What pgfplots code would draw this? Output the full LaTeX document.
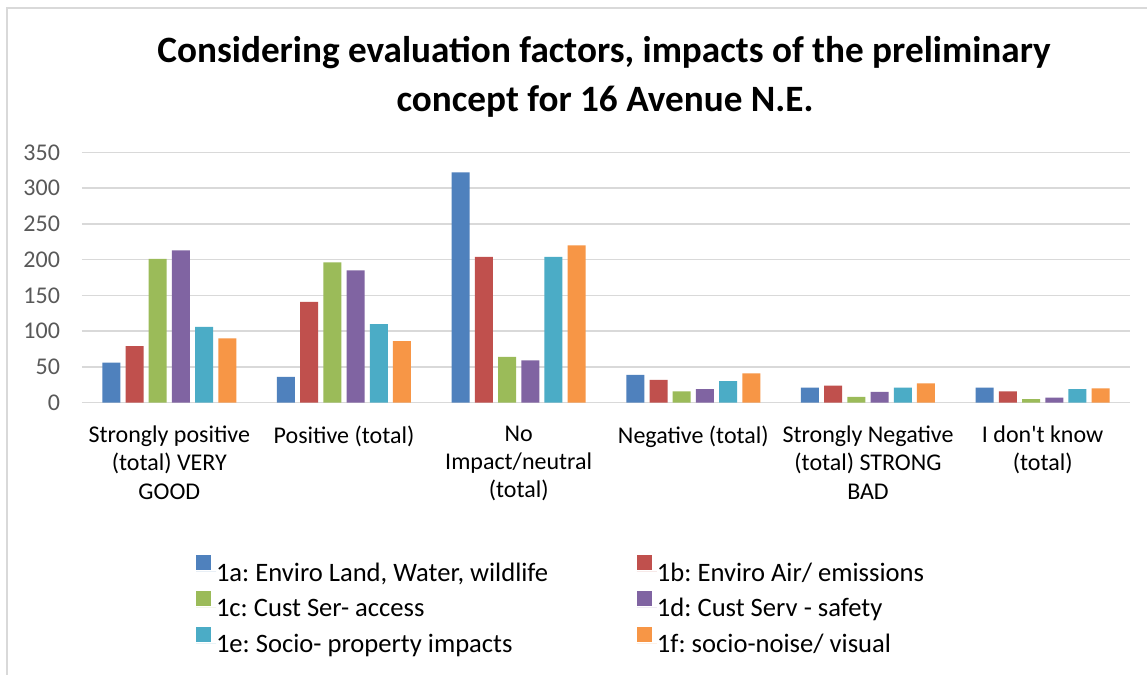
\documentclass[border=0pt]{standalone}
\usepackage{fontspec}
\setmainfont{Carlito}
\usepackage{pgfplots}
\pgfplotsset{compat=1.18}
\definecolor{ca}{HTML}{4F81BD}
\definecolor{cb}{HTML}{C0504D}
\definecolor{cc}{HTML}{9BBB59}
\definecolor{cd}{HTML}{8064A2}
\definecolor{ce}{HTML}{4BACC6}
\definecolor{cf}{HTML}{F79646}
\definecolor{gridc}{HTML}{D9D9D9}
\definecolor{tickc}{HTML}{595959}
\pgfplotsset{sqlegend/.style={legend image code/.code={\path (0pt,0pt) -- (10pt,0pt); \fill[##1] (0pt,0.65pt) rectangle (7.5pt,8.15pt);}}}
\newcommand\lentry[1]{\makebox[210.5pt][l]{\rule[-4pt]{0pt}{15pt}#1}}
\frenchspacing
\begin{document}
\begin{tikzpicture}
\path[use as bounding box] (0pt,0pt) rectangle (573.5pt,-337.5pt);
\fill[white] (0pt,0pt) rectangle (573.5pt,-337.5pt);
\draw[gridc, line width=1pt] (3.5pt,-337.5pt) -- (3.5pt,-4pt) -- (573.5pt,-4pt);
\node[anchor=base, font=\fontsize{18.6}{22}\selectfont\bfseries] at (302pt,-31.35pt) {Considering evaluation factors, impacts of the preliminary};
\node[anchor=base, font=\fontsize{18.6}{22}\selectfont\bfseries] at (302.5pt,-55.85pt) {concept for 16 Avenue N.E.};
\begin{axis}[
  at={(41pt,-201.35pt)}, anchor=south west,
  width=524pt, height=125.2pt, scale only axis,
  xmin=-0.5, xmax=5.5, ymin=0, ymax=350,
  ytick={0,50,...,350},
  xtick={0,...,5},
  xticklabels={{Strongly positive\\(total) VERY\\GOOD},{Positive (total)},{No\\Impact/neutral\\(total)},{Negative (total)},{Strongly Negative\\(total) STRONG\\BAD},{I don\textquotesingle t know\\(total)}},
  ybar=2.6pt, bar width=9pt,
  axis line style={draw=none},
  major tick length=0pt,
  ymajorgrids, grid style={gridc, line width=0.75pt},
  /pgf/number format/assume math mode=true,
  yticklabel style={font=\fontsize{12}{14}\selectfont, text=tickc, xshift=-7.5pt},
  xticklabel style={font=\fontsize{12}{14.2}\selectfont, align=center, yshift=-8pt},
  legend columns=2,
  legend style={at={(rel axis cs:0,0)}, anchor=north west, xshift=57pt, yshift=-76.3pt, draw=none, fill=none, inner sep=0pt, outer sep=0pt, row sep=3.5pt, column sep=0pt, font=\fontsize{13.3}{15}\selectfont, nodes={inner sep=0pt}},
  legend cell align=left,
]
\addplot[fill=ca, draw=none, sqlegend] coordinates {(0,56) (1,36) (2,322) (3,39) (4,21) (5,21)};
\addlegendentry{\lentry{1a: Enviro Land, Water, wildlife}}
\addplot[fill=cb, draw=none, sqlegend] coordinates {(0,79) (1,141) (2,204) (3,32) (4,24) (5,16)};
\addlegendentry{\lentry{1b: Enviro Air/ emissions}}
\addplot[fill=cc, draw=none, sqlegend] coordinates {(0,201) (1,196) (2,64) (3,16) (4,8) (5,5)};
\addlegendentry{\lentry{1c: Cust Ser- access}}
\addplot[fill=cd, draw=none, sqlegend] coordinates {(0,213) (1,185) (2,59) (3,19) (4,15) (5,7)};
\addlegendentry{\lentry{1d: Cust Serv - safety}}
\addplot[fill=ce, draw=none, sqlegend] coordinates {(0,106) (1,110) (2,204) (3,30) (4,21) (5,19)};
\addlegendentry{\lentry{1e: Socio- property impacts}}
\addplot[fill=cf, draw=none, sqlegend] coordinates {(0,90) (1,86) (2,220) (3,41) (4,27) (5,20)};
\addlegendentry{\lentry{1f: socio-noise/ visual}}
\end{axis}
\end{tikzpicture}
\end{document}
